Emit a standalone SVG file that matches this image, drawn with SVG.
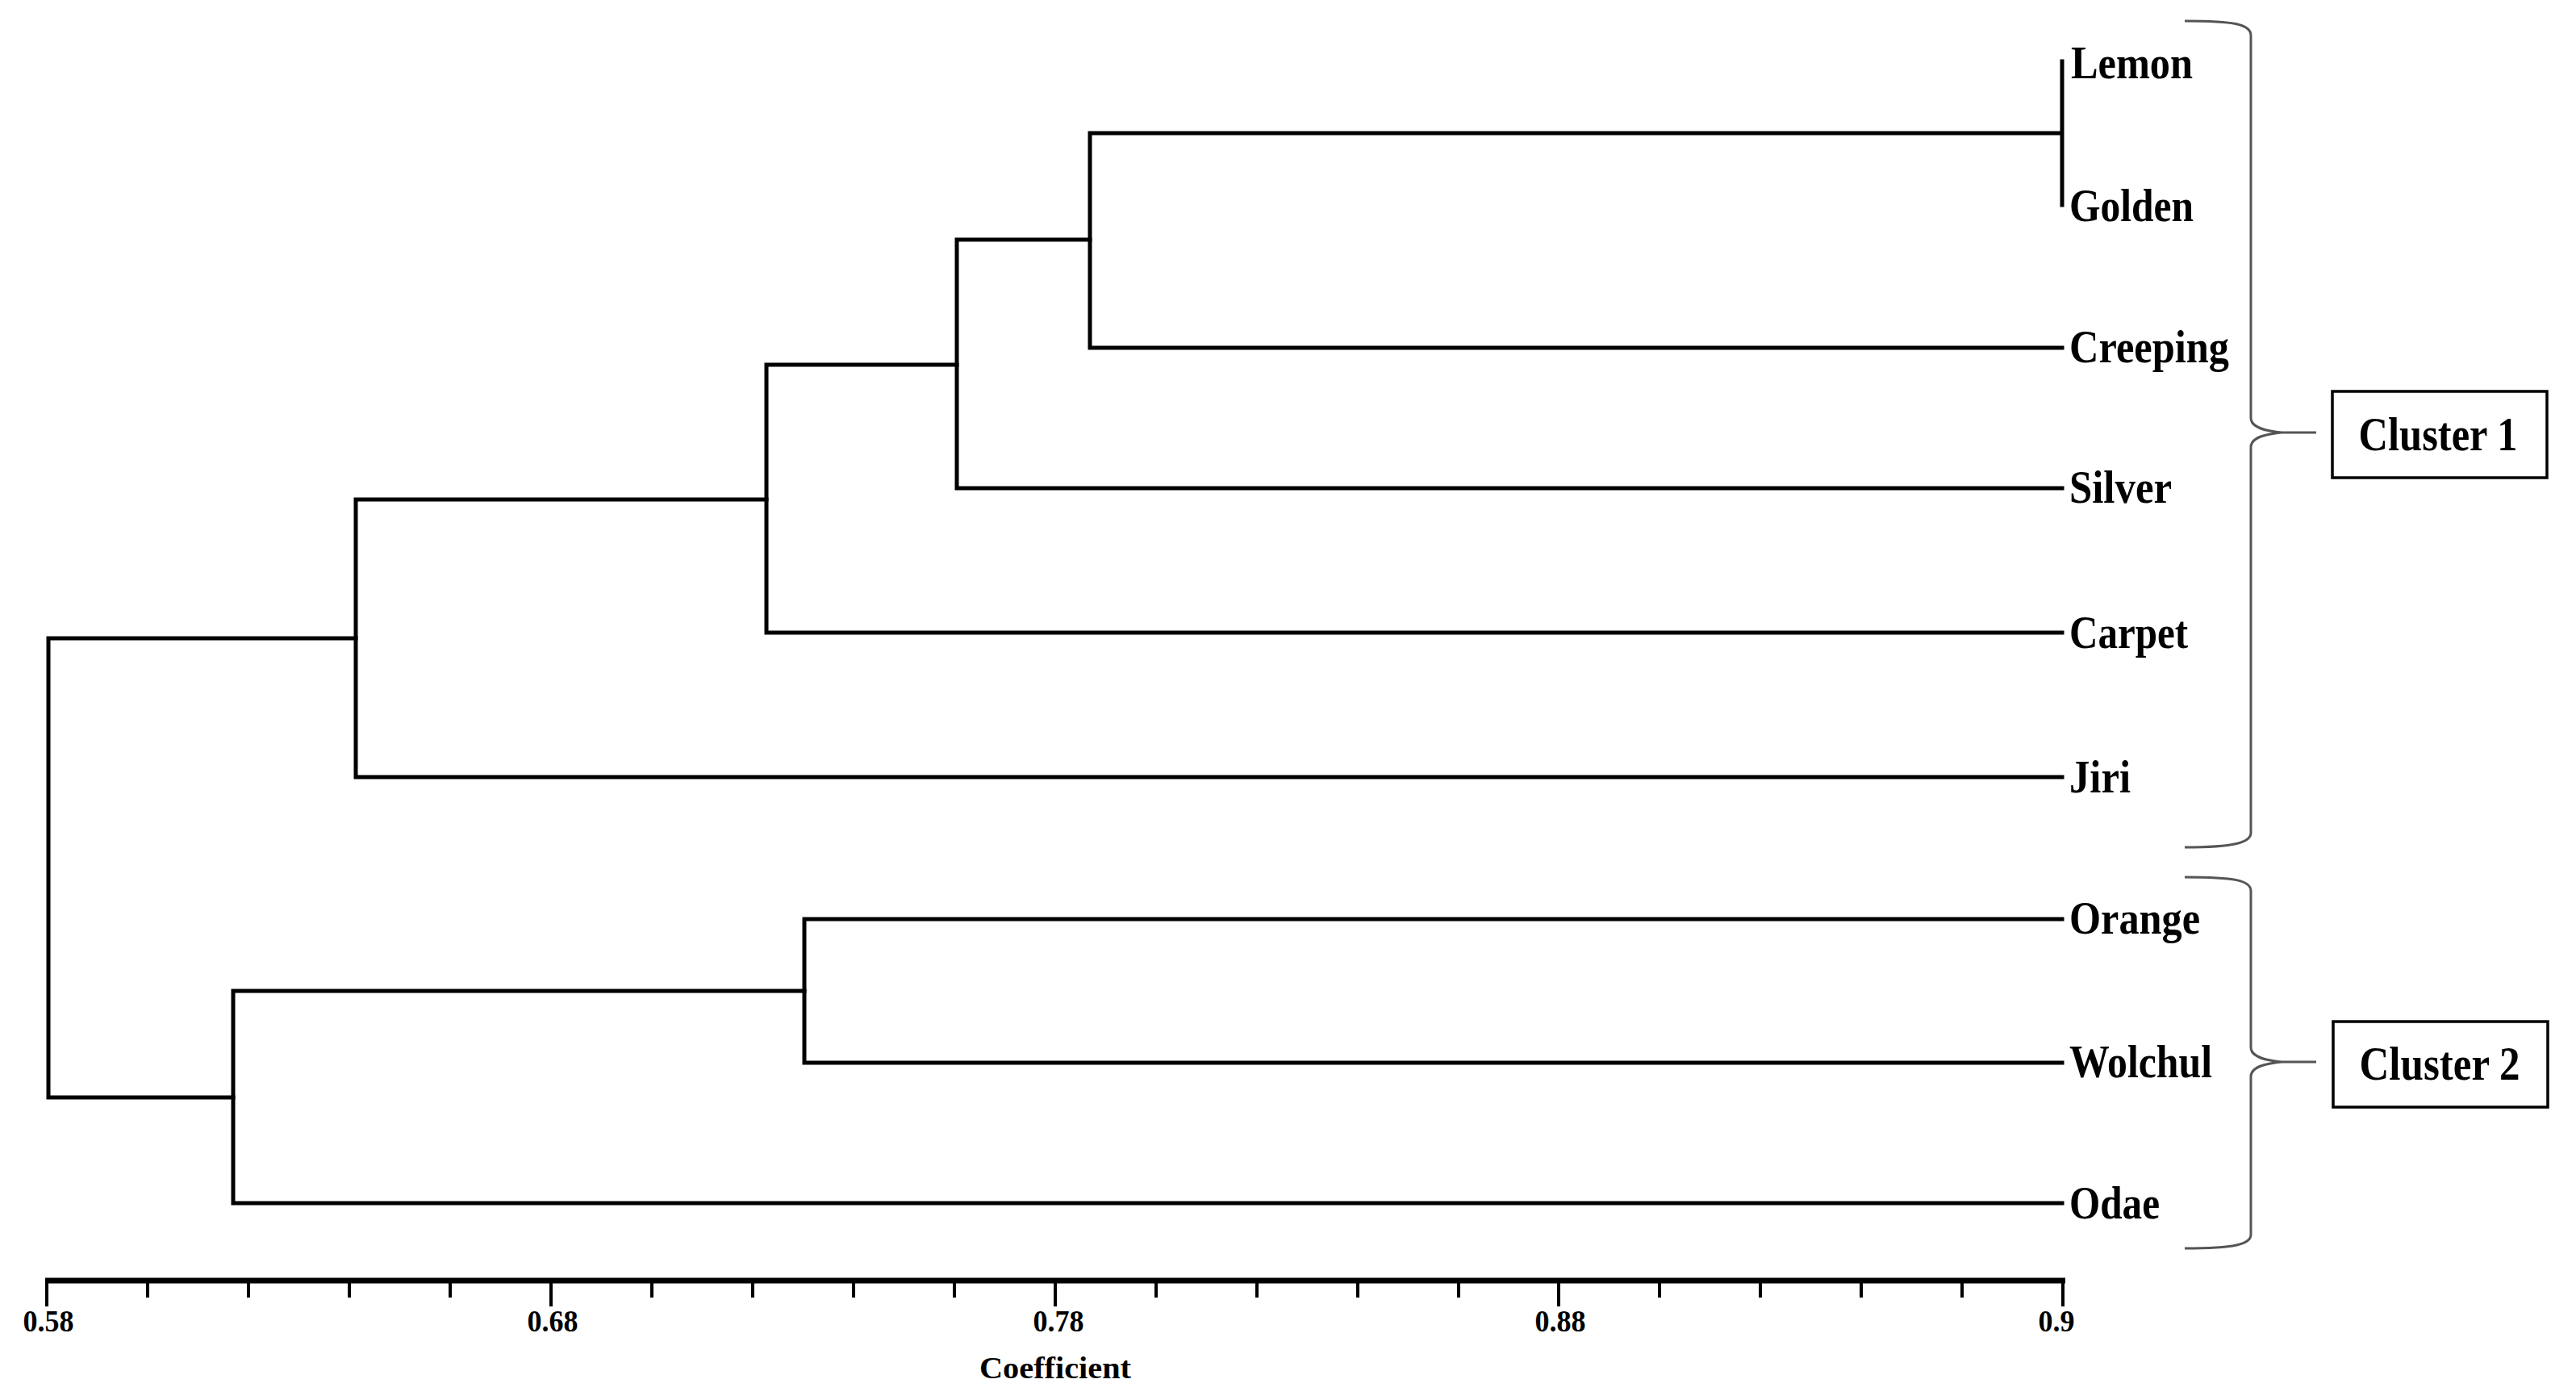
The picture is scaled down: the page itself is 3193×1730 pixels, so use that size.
<svg xmlns="http://www.w3.org/2000/svg" width="3193" height="1730" viewBox="0 0 3193 1730">
<style>
.br{fill:none;stroke:#000;stroke-width:5;stroke-linecap:square}
.brace{fill:none;stroke:#555;stroke-width:3}
.lbl{font-family:"Liberation Serif","Times New Roman",serif;font-weight:bold;font-size:57px;fill:#000}
.cl{font-family:"Liberation Serif","Times New Roman",serif;font-weight:bold;font-size:59px;fill:#000;text-anchor:middle}
.ax{font-family:"Liberation Serif","Times New Roman",serif;font-weight:bold;font-size:38px;fill:#000;text-anchor:middle}
.box{fill:#fff;stroke:#000;stroke-width:3.5}
.tick{stroke:#000;stroke-width:4}
</style>
<rect width="3193" height="1730" fill="#fff"/>
<g id="connectors">
<path class="br" d="M2556,76 V254 M1351,165 H2556 M1351,165 V431 H2556"/>
<path class="br" d="M1186,297 H1351 M1186,297 V605 H2556"/>
<path class="br" d="M950,452 H1186 M950,452 V784 H2556"/>
<path class="br" d="M441,619 H950 M441,619 V963 H2556"/>
<path class="br" d="M60,791 H441 M60,791 V1360 H289"/>
<path class="br" d="M289,1228 H997 M289,1228 V1491 H2556"/>
<path class="br" d="M997,1139 H2556 M997,1139 V1317 H2556"/>
</g>
<g id="leaves">
<text id="leaf-lemon" class="lbl" x="2567" y="97" textLength="151" lengthAdjust="spacingAndGlyphs">Lemon</text>
<text id="leaf-golden" class="lbl" x="2565" y="274" textLength="154" lengthAdjust="spacingAndGlyphs">Golden</text>
<text id="leaf-creeping" class="lbl" x="2565" y="449" textLength="198" lengthAdjust="spacingAndGlyphs">Creeping</text>
<text id="leaf-silver" class="lbl" x="2565" y="623" textLength="127" lengthAdjust="spacingAndGlyphs">Silver</text>
<text id="leaf-carpet" class="lbl" x="2565" y="803" textLength="147" lengthAdjust="spacingAndGlyphs">Carpet</text>
<text id="leaf-jiri" class="lbl" x="2565" y="982" textLength="76" lengthAdjust="spacingAndGlyphs">Jiri</text>
<text id="leaf-orange" class="lbl" x="2565" y="1157" textLength="162" lengthAdjust="spacingAndGlyphs">Orange</text>
<text id="leaf-wolchul" class="lbl" x="2565" y="1335" textLength="177" lengthAdjust="spacingAndGlyphs">Wolchul</text>
<text id="leaf-odae" class="lbl" x="2565" y="1510" textLength="112" lengthAdjust="spacingAndGlyphs">Odae</text>
</g>
<g id="brace1">
<path class="brace" d="M2708,26 C2770,26 2790,30 2790,44 L2790,518 C2790,530 2808,534 2828,536 L2871,536 M2828,536 C2808,538 2790,542 2790,554 L2790,1032 C2790,1044 2770,1050 2708,1050"/>
</g>
<g id="cluster1">
<rect class="box" x="2891" y="485" width="266" height="107"/>
<text class="cl" x="3022" y="558" textLength="197" lengthAdjust="spacingAndGlyphs">Cluster 1</text>
</g>
<g id="brace2">
<path class="brace" d="M2708,1087 C2770,1087 2790,1091 2790,1104 L2790,1298 C2790,1310 2808,1314 2828,1316 L2871,1316 M2828,1316 C2808,1318 2790,1322 2790,1334 L2790,1530 C2790,1542 2770,1547 2708,1547"/>
</g>
<g id="cluster2">
<rect class="box" x="2892" y="1266" width="266" height="106"/>
<text class="cl" x="3024" y="1338" textLength="199" lengthAdjust="spacingAndGlyphs">Cluster 2</text>
</g>
<g id="axis">
<line x1="56" y1="1587" x2="2560" y2="1587" stroke="#000" stroke-width="7"/>
<path class="tick" d="M58,1587 V1619 M183,1587 V1608 M308,1587 V1608 M433,1587 V1608 M558,1587 V1608 M683,1587 V1619 M808,1587 V1608 M933,1587 V1608 M1058,1587 V1608 M1183,1587 V1608 M1308,1587 V1619 M1433,1587 V1608 M1558,1587 V1608 M1683,1587 V1608 M1808,1587 V1608 M1932,1587 V1619 M2057,1587 V1608 M2182,1587 V1608 M2307,1587 V1608 M2432,1587 V1608 M2557,1587 V1619"/>
<text class="ax" x="60" y="1650" textLength="63" lengthAdjust="spacingAndGlyphs">0.58</text>
<text class="ax" x="685" y="1650" textLength="63" lengthAdjust="spacingAndGlyphs">0.68</text>
<text class="ax" x="1312" y="1650" textLength="63" lengthAdjust="spacingAndGlyphs">0.78</text>
<text class="ax" x="1934" y="1650" textLength="63" lengthAdjust="spacingAndGlyphs">0.88</text>
<text class="ax" x="2549" y="1650" textLength="45" lengthAdjust="spacingAndGlyphs">0.9</text>
<text class="ax" x="1308" y="1708" font-size="42" textLength="188" lengthAdjust="spacingAndGlyphs">Coefficient</text>
</g>
</svg>
